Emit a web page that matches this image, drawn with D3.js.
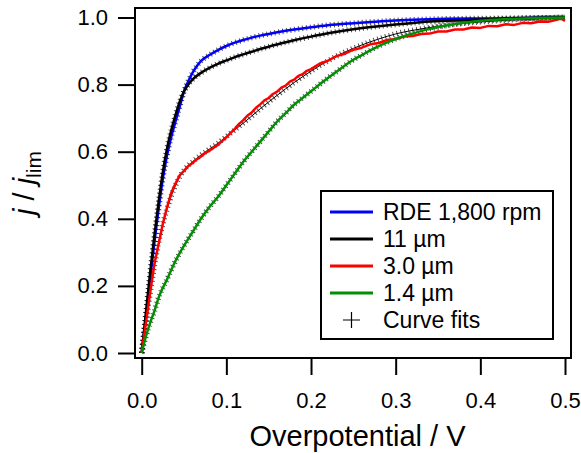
<!DOCTYPE html>
<html>
<head>
<meta charset="utf-8">
<script src="https://cdn.jsdelivr.net/npm/d3@7"></script>
<style>
  body { margin: 0; background: #fff; }
  svg { display: block; }
</style>
</head>
<body>
<svg id="chart" width="581" height="453"></svg>
<script>
// overpotential (V) and normalised current j/jlim
var rdeX = [0, 0.005, 0.01, 0.015, 0.02, 0.025, 0.03, 0.035, 0.04, 0.045, 0.05, 0.055, 0.06, 0.065, 0.07, 0.08, 0.09, 0.1, 0.11, 0.12, 0.13, 0.14, 0.15, 0.165, 0.18, 0.2, 0.22, 0.25, 0.28, 0.3, 0.33, 0.36, 0.4, 0.44, 0.47, 0.5];
var rdeY = [0, 0.11, 0.22, 0.33, 0.43, 0.52, 0.59, 0.645, 0.69, 0.735, 0.78, 0.81, 0.835, 0.855, 0.87, 0.888, 0.903, 0.915, 0.925, 0.933, 0.94, 0.946, 0.951, 0.958, 0.964, 0.971, 0.977, 0.983, 0.988, 0.991, 0.994, 0.996, 0.997, 0.998, 0.999, 1.0];

var um11X = [0, 0.005, 0.01, 0.015, 0.02, 0.025, 0.03, 0.035, 0.04, 0.045, 0.05, 0.055, 0.06, 0.07, 0.08, 0.09, 0.1, 0.11, 0.12, 0.13, 0.14, 0.15, 0.165, 0.18, 0.2, 0.22, 0.25, 0.28, 0.3, 0.33, 0.36, 0.4, 0.44, 0.47, 0.5];
var um11Y = [0, 0.12, 0.24, 0.35, 0.45, 0.54, 0.61, 0.665, 0.71, 0.75, 0.78, 0.8, 0.815, 0.835, 0.85, 0.862, 0.872, 0.882, 0.89, 0.898, 0.906, 0.913, 0.923, 0.932, 0.943, 0.953, 0.965, 0.974, 0.979, 0.986, 0.99, 0.994, 0.997, 0.999, 1.0];

var um3X = [0, 0.005, 0.01, 0.015, 0.02, 0.025, 0.03, 0.035, 0.04, 0.045, 0.05, 0.055, 0.06, 0.065, 0.07, 0.075, 0.08, 0.085, 0.09, 0.095, 0.1, 0.105, 0.11, 0.115, 0.12, 0.125, 0.13, 0.135, 0.14, 0.145, 0.15, 0.155, 0.16, 0.165, 0.17, 0.175, 0.18, 0.185, 0.19, 0.195, 0.2, 0.21, 0.22, 0.23, 0.24, 0.25, 0.26, 0.27, 0.28, 0.29, 0.3, 0.31, 0.32, 0.33, 0.34, 0.35, 0.36, 0.37, 0.38, 0.39, 0.4, 0.41, 0.42, 0.43, 0.44, 0.45, 0.46, 0.47, 0.48, 0.49, 0.495, 0.5];
var um3Y = [0, 0.09, 0.18, 0.265, 0.325, 0.385, 0.435, 0.478, 0.506, 0.53, 0.543, 0.557, 0.566, 0.577, 0.586, 0.596, 0.603, 0.612, 0.62, 0.632, 0.643, 0.656, 0.668, 0.683, 0.694, 0.708, 0.717, 0.731, 0.741, 0.753, 0.76, 0.772, 0.779, 0.791, 0.797, 0.809, 0.815, 0.826, 0.831, 0.841, 0.846, 0.862, 0.871, 0.885, 0.892, 0.904, 0.91, 0.92, 0.924, 0.933, 0.936, 0.943, 0.945, 0.951, 0.952, 0.958, 0.958, 0.964, 0.964, 0.97, 0.969, 0.975, 0.974, 0.98, 0.978, 0.984, 0.983, 0.988, 0.987, 0.993, 0.998, 0.99];

var um14X = [0, 0.005, 0.01, 0.015, 0.02, 0.03, 0.04, 0.05, 0.06, 0.07, 0.08, 0.09, 0.1, 0.11, 0.12, 0.13, 0.14, 0.15, 0.16, 0.17, 0.18, 0.19, 0.2, 0.21, 0.22, 0.23, 0.24, 0.25, 0.26, 0.27, 0.28, 0.29, 0.3, 0.32, 0.34, 0.36, 0.38, 0.4, 0.43, 0.46, 0.5];
var um14Y = [0, 0.05, 0.09, 0.125, 0.165, 0.22, 0.275, 0.32, 0.36, 0.4, 0.435, 0.465, 0.5, 0.535, 0.57, 0.6, 0.63, 0.66, 0.69, 0.715, 0.74, 0.76, 0.78, 0.8, 0.82, 0.838, 0.857, 0.874, 0.888, 0.902, 0.915, 0.926, 0.936, 0.952, 0.966, 0.976, 0.984, 0.99, 0.995, 0.998, 1.0];

// fit for the 3.0 um electrode (the other fits sit on their data)
var fit3X = [0, 0.01, 0.02, 0.03, 0.04, 0.05, 0.06, 0.07, 0.08, 0.09, 0.1, 0.11, 0.12, 0.14, 0.16, 0.18, 0.2, 0.22, 0.24, 0.26, 0.28, 0.3, 0.33, 0.36, 0.4, 0.45, 0.5];
var fit3Y = [0, 0.18, 0.33, 0.43, 0.5, 0.545, 0.57, 0.59, 0.608, 0.625, 0.645, 0.665, 0.685, 0.728, 0.768, 0.806, 0.84, 0.871, 0.897, 0.918, 0.936, 0.951, 0.966, 0.977, 0.987, 0.995, 1.0];

var seriesNames = ["RDE 1,800 rpm", "11 \u00b5m", "3.0 \u00b5m", "1.4 \u00b5m"];
var seriesColors = ["#0000ff", "#000000", "#ff0000", "#009000"];
var xTicks = [0, 0.1, 0.2, 0.3, 0.4, 0.5];
var yTicks = [0, 0.2, 0.4, 0.6, 0.8, 1.0];

var font = "'Liberation Sans', Arial, sans-serif";

function zip(xs, ys) {
  return xs.map(function(x, i) { return [x, ys[i]]; });
}

var series = [zip(rdeX, rdeY), zip(um11X, um11Y), zip(um3X, um3Y), zip(um14X, um14Y)];
var fits = [zip(rdeX, rdeY), zip(um11X, um11Y), zip(fit3X, fit3Y), zip(um14X, um14Y)];

var svg = d3.select("#chart");
var frame = {left: 135, right: 571, top: 8, bottom: 358};

var x = d3.scaleLinear().domain([0, 0.5]).range([141.7, 565]);
var y = d3.scaleLinear().domain([0, 1]).range([353, 17.5]);

var smooth = d3.line()
  .x(function(d) { return x(d[0]); })
  .y(function(d) { return y(d[1]); })
  .curve(d3.curveMonotoneX);
var jagged = d3.line()
  .x(function(d) { return x(d[0]); })
  .y(function(d) { return y(d[1]); });

// axes
var xAxis = svg.append("g")
  .attr("transform", "translate(0," + frame.bottom + ")")
  .call(d3.axisBottom(x).tickValues(xTicks).tickFormat(d3.format(".1f"))
    .tickSize(17).tickSizeOuter(0).tickPadding(17));
var yAxis = svg.append("g")
  .attr("transform", "translate(" + frame.left + ",0)")
  .call(d3.axisLeft(y).tickValues(yTicks).tickFormat(d3.format(".1f"))
    .tickSize(17).tickSizeOuter(0).tickPadding(10));

[xAxis, yAxis].forEach(function(a) {
  a.select(".domain").remove();
  a.selectAll(".tick line").attr("stroke", "#000").attr("stroke-width", 2);
  a.selectAll(".tick text")
    .attr("fill", "#000")
    .attr("font-family", font)
    .attr("font-size", 22);
});

// fit crosses: thin line plus short wide dashes across it
var fitG = svg.append("g");
fits.forEach(function(f) {
  fitG.append("path")
    .attr("d", smooth(f))
    .attr("fill", "none")
    .attr("stroke", "#000")
    .attr("stroke-width", 1);
  fitG.append("path")
    .attr("d", smooth(f))
    .attr("fill", "none")
    .attr("stroke", "#000")
    .attr("stroke-opacity", 0.7)
    .attr("stroke-width", 5.5)
    .attr("stroke-dasharray", "1 3");
});

var dataG = svg.append("g");
series.forEach(function(s, i) {
  dataG.append("path")
    .attr("d", i == 2 ? jagged(s) : smooth(s))
    .attr("fill", "none")
    .attr("stroke", seriesColors[i])
    .attr("stroke-width", 2.5)
    .attr("stroke-linejoin", "round");
});

// plot frame
svg.append("rect")
  .attr("x", frame.left)
  .attr("y", frame.top)
  .attr("width", frame.right - frame.left)
  .attr("height", frame.bottom - frame.top)
  .attr("fill", "none")
  .attr("stroke", "#000")
  .attr("stroke-width", 2);

// legend
var lg = svg.append("g");
lg.append("rect")
  .attr("x", 321).attr("y", 191)
  .attr("width", 232).attr("height", 148)
  .attr("fill", "#fff")
  .attr("stroke", "#000")
  .attr("stroke-width", 2);

var rows = seriesNames.concat(["Curve fits"]);
rows.forEach(function(name, i) {
  var ry = 212 + i * 27;
  if (i < 4) {
    lg.append("line")
      .attr("x1", 330).attr("x2", 373)
      .attr("y1", ry).attr("y2", ry)
      .attr("stroke", seriesColors[i])
      .attr("stroke-width", 3);
  } else {
    lg.append("path")
      .attr("d", "M343," + ry + "H360M351.5," + (ry - 8) + "V" + (ry + 8))
      .attr("stroke", "#000")
      .attr("stroke-width", 1.2);
  }
  lg.append("text")
    .attr("x", 383).attr("y", ry + 8)
    .attr("font-family", font)
    .attr("font-size", 23)
    .text(name);
});

// axis titles
svg.append("text")
  .attr("x", 357.5).attr("y", 446)
  .attr("text-anchor", "middle")
  .attr("font-family", font)
  .attr("font-size", 29)
  .text("Overpotential / V");

var yt = svg.append("text")
  .attr("transform", "translate(34,183) rotate(-90)")
  .attr("text-anchor", "middle")
  .attr("font-family", font)
  .attr("font-size", 29);
yt.append("tspan").attr("font-style", "italic").text("j");
yt.append("tspan").text(" / ");
yt.append("tspan").attr("font-style", "italic").text("j");
yt.append("tspan").attr("font-size", 21).attr("dy", 7).text("lim");
</script>
</body>
</html>
